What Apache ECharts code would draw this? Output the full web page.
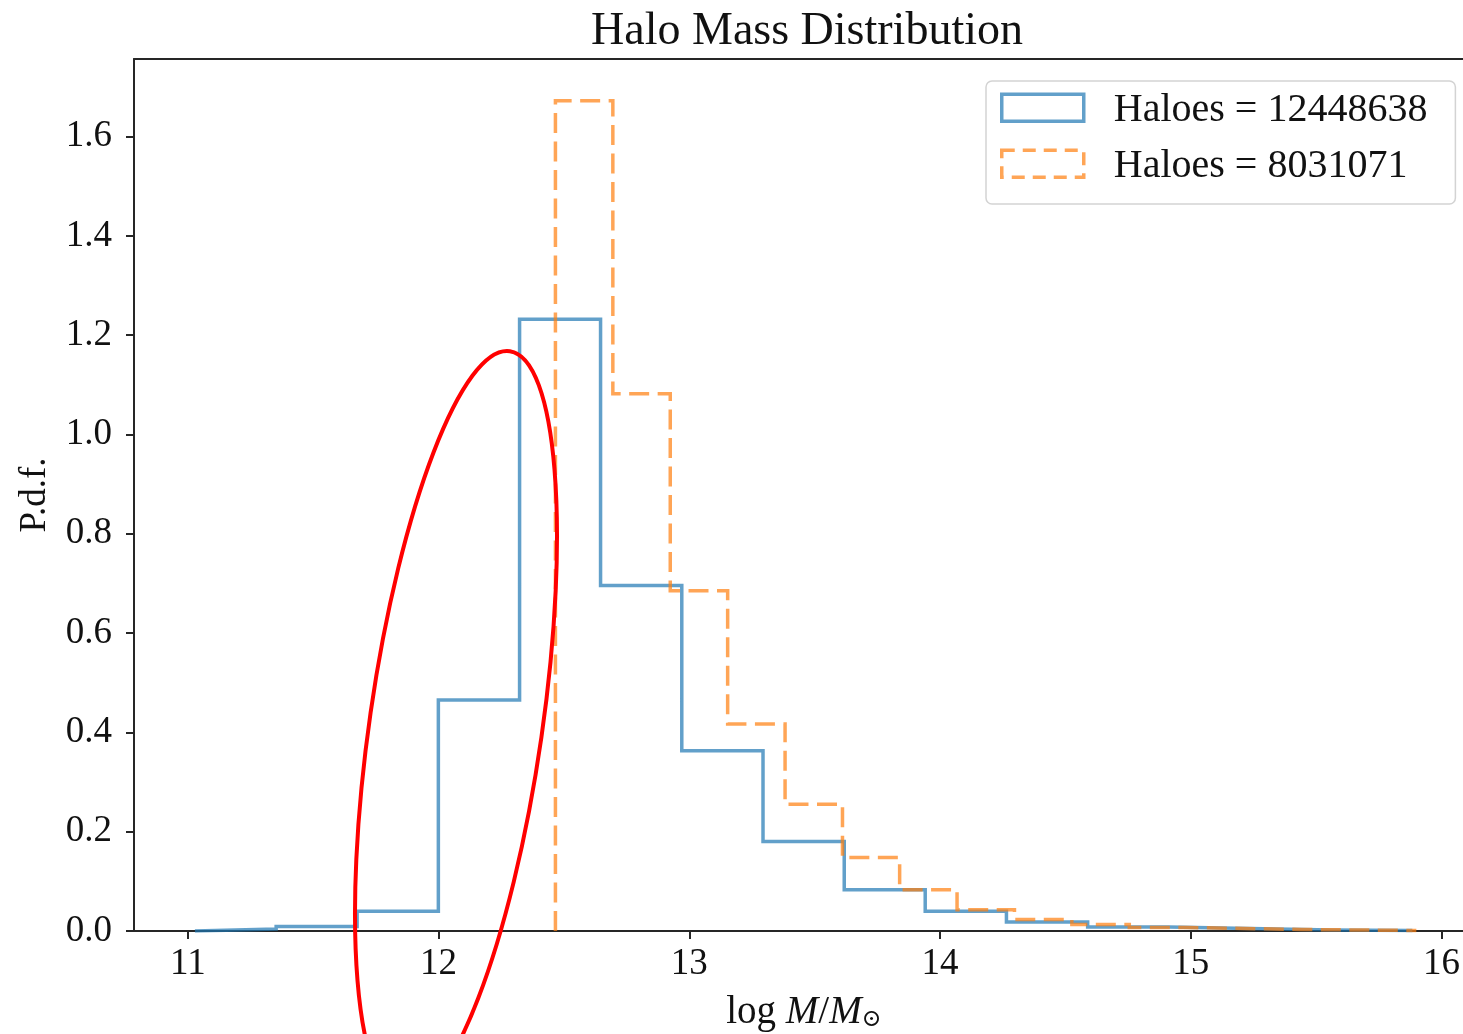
<!DOCTYPE html>
<html><head><meta charset="utf-8">
<script src="https://cdn.jsdelivr.net/npm/echarts@6/dist/echarts.min.js"></script>
<style>html,body{margin:0;padding:0;background:#fff;}#c{width:1463px;height:1034px;}</style>
</head><body><div id="c"></div>
<script>
const titleText = 'Halo Mass Distribution';
const seriesNames = ['Haloes = 12448638', 'Haloes = 8031071'];
const blueEdges = [11.028, 11.352, 11.675, 11.999, 12.323, 12.646, 12.970, 13.294, 13.618, 13.941, 14.265, 14.589, 14.912, 15.236, 15.560, 15.884];
const blueValues = [0.004, 0.009, 0.040, 0.465, 1.232, 0.696, 0.363, 0.180, 0.083, 0.040, 0.018, 0.008, 0.005, 0.002, 0.001];
const orangeEdges = [12.466, 12.695, 12.924, 13.153, 13.382, 13.611, 13.839, 14.068, 14.297, 14.526, 14.755, 14.984, 15.213, 15.442, 15.671, 15.900];
const orangeValues = [1.672, 1.082, 0.685, 0.417, 0.255, 0.148, 0.083, 0.043, 0.023, 0.013, 0.007, 0.005, 0.003, 0.002, 0.001];
const xTicks = [11, 12, 13, 14, 15, 16];
const yTicks = [0, 0.2, 0.4, 0.6, 0.8, 1.0, 1.2, 1.4, 1.6];

function stepOutline(edges, values) {
  const pts = [[edges[0], 0]];
  for (let i = 0; i < values.length; i++) {
    pts.push([edges[i], values[i]]);
    pts.push([edges[i + 1], values[i]]);
  }
  pts.push([edges[edges.length - 1], 0]);
  return pts;
}

const BLUE = 'rgba(31,119,180,0.7)';
const ORANGE = 'rgba(255,127,14,0.7)';
const FONT = '"Liberation Serif", "DejaVu Serif", serif';
const TXT = '#111';
const AX = '#262626';
const X_MIN = 10.785, X_MAX = 16.13;

const chart = echarts.init(document.getElementById('c'), null, {renderer: 'canvas'});
chart.setOption({
  animation: false,
  backgroundColor: '#fff',
  title: {
    text: titleText, left: 802, textAlign: 'center', top: 4,
    textStyle: {fontFamily: FONT, fontSize: 46, fontWeight: 'normal', color: TXT}
  },
  legend: {
    left: 986, top: 81, orient: 'vertical',
    padding: [4.25, 28, 17.75, 14], itemGap: 11, itemWidth: 82, itemHeight: 27,
    backgroundColor: '#fff', borderColor: '#d3d3d3', borderWidth: 1.5, borderRadius: 6,
    selectedMode: false,
    formatter: name => '{t|' + name + '}',
    textStyle: {
      fontFamily: FONT, fontSize: 40, color: TXT, padding: [0, 15, 0, 25],
      rich: {t: {fontFamily: FONT, fontSize: 40, color: TXT, lineHeight: 28, padding: [5, 0, 0, 0]}}
    },
    data: [
      {name: seriesNames[0], icon: 'rect', itemStyle: {color: 'transparent', borderColor: BLUE, borderWidth: 3.5}},
      {name: seriesNames[1], icon: 'rect', itemStyle: {color: 'transparent', borderColor: ORANGE, borderWidth: 3.5, borderType: [13, 8]}}
    ]
  },
  grid: {left: 134, top: 59, width: 1340, height: 872, show: false, outerBoundsMode: 'none', containLabel: false},
  xAxis: [{
    type: 'value', min: X_MIN, max: X_MAX, position: 'bottom',
    name: '{n|log }{i|M}{n|/}{i|M}{s|⊙}', nameLocation: 'middle', nameGap: 62,
    nameTextStyle: {
      fontFamily: FONT, color: TXT,
      rich: {
        n: {fontFamily: FONT, fontSize: 39, color: TXT},
        i: {fontFamily: FONT, fontSize: 39, fontStyle: 'italic', color: TXT},
        s: {fontFamily: FONT, fontSize: 24, color: TXT, padding: [14, 0, 0, 0]}
      }
    },
    axisLine: {show: true, onZero: false, lineStyle: {color: AX, width: 2}},
    axisTick: {show: true, customValues: xTicks, length: 8, lineStyle: {color: AX, width: 2}},
    axisLabel: {customValues: xTicks, margin: 15, fontFamily: FONT, fontSize: 37, color: TXT, formatter: v => String(v)},
    splitLine: {show: false}
  }, {
    type: 'value', min: X_MIN, max: X_MAX, position: 'top',
    axisLine: {show: true, onZero: false, lineStyle: {color: AX, width: 2}},
    axisTick: {show: false}, axisLabel: {show: false}, splitLine: {show: false}
  }],
  yAxis: {
    type: 'value', min: 0, max: 1.756,
    name: 'P.d.f.', nameLocation: 'middle', nameRotate: 90, nameGap: 80,
    nameTextStyle: {fontFamily: FONT, fontSize: 37, color: TXT},
    axisLine: {show: true, onZero: false, lineStyle: {color: AX, width: 2}},
    axisTick: {show: true, customValues: yTicks, length: 8, lineStyle: {color: AX, width: 2}},
    axisLabel: {customValues: yTicks, margin: 22, fontFamily: FONT, fontSize: 37, color: TXT, formatter: v => v.toFixed(1)},
    splitLine: {show: false}
  },
  series: [
    {name: seriesNames[0], type: 'line', xAxisIndex: 0, data: stepOutline(blueEdges, blueValues), showSymbol: false, symbol: 'none',
     color: BLUE, lineStyle: {color: BLUE, width: 3.5, join: 'miter', cap: 'butt'}, z: 3},
    {name: seriesNames[1], type: 'line', xAxisIndex: 0, data: stepOutline(orangeEdges, orangeValues), showSymbol: false, symbol: 'none',
     color: ORANGE, lineStyle: {color: ORANGE, width: 3.5, type: [20, 8.5], join: 'miter', cap: 'butt'}, z: 4}
  ],
  graphic: [
    {type: 'ellipse', x: 456, y: 725, rotation: -8.2 * Math.PI / 180, z: 100,
     shape: {cx: 0, cy: 0, rx: 86.3, ry: 377.7},
     style: {fill: 'none', stroke: '#ff0000', lineWidth: 4}}
  ]
});
</script></body></html>
